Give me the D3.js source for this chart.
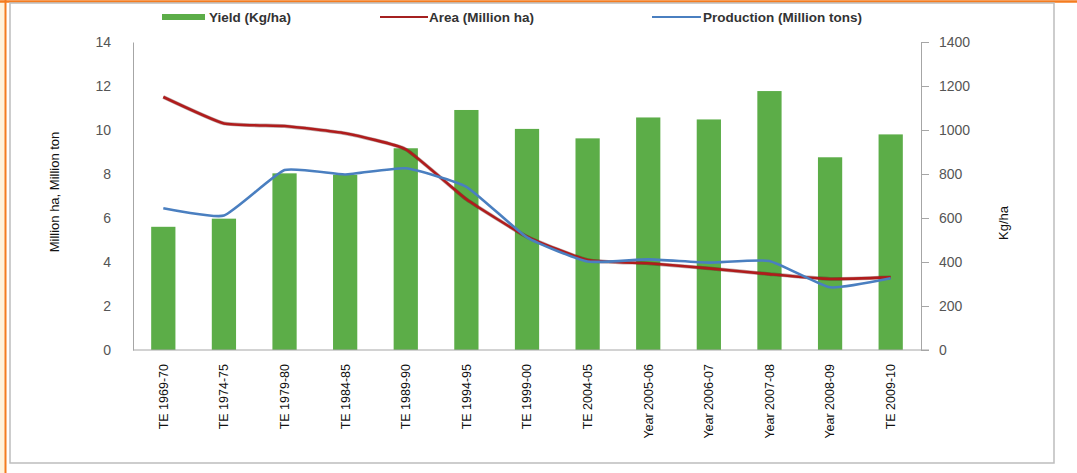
<!DOCTYPE html>
<html>
<head>
<meta charset="utf-8">
<script src="https://cdn.jsdelivr.net/npm/d3@7"></script>
<style>
  body { margin: 0; background: #fff; }
  text { font-family: "Liberation Sans", Arial, sans-serif; }
</style>
</head>
<body>
<svg id="chart" width="1077" height="473"></svg>
<script>
const categories = ['TE 1969-70', 'TE 1974-75', 'TE 1979-80', 'TE 1984-85', 'TE 1989-90', 'TE 1994-95',
  'TE 1999-00', 'TE 2004-05', 'Year 2005-06', 'Year 2006-07', 'Year 2007-08', 'Year 2008-09', 'TE 2009-10'];
const yieldKg = [560, 597, 803, 797, 917, 1091, 1005, 962, 1057, 1048, 1177, 876, 980];
const area = [11.5, 10.3, 10.18, 9.85, 9.12, 6.85, 5.15, 4.09, 3.94, 3.71, 3.45, 3.23, 3.30];
const production = [6.44, 6.11, 8.18, 7.98, 8.26, 7.42, 5.12, 4.02, 4.12, 3.97, 4.05, 2.85, 3.26];
const leftTicks = [0, 2, 4, 6, 8, 10, 12, 14];
const rightTicks = [0, 200, 400, 600, 800, 1000, 1200, 1400];

const svg = d3.select('#chart');
const W = 1077, H = 473;
const m = {left: 133, right: 921, top: 42, bottom: 350};

// frame
svg.append('rect').attr('x', 0).attr('y', 0).attr('width', 5).attr('height', H).attr('fill', '#fff3dc');
svg.append('line').attr('x1', 0).attr('x2', W).attr('y1', 1.5).attr('y2', 1.5).attr('stroke', '#f47c20').attr('stroke-width', 2.5);
svg.append('line').attr('x1', 5.5).attr('x2', 5.5).attr('y1', 0).attr('y2', H).attr('stroke', '#f47c20').attr('stroke-width', 2);
svg.append('rect').attr('x', 10).attr('y', 3).attr('width', 1044).attr('height', 460)
  .attr('fill', 'none').attr('stroke', '#bdbdbd').attr('stroke-width', 1.5);

const x = d3.scaleBand().domain(categories).range([m.left, m.right]).paddingInner(0.6).paddingOuter(0.3);
const yL = d3.scaleLinear().domain([0, 14]).range([m.bottom, m.top]);
const yR = d3.scaleLinear().domain([0, 1400]).range([m.bottom, m.top]);
const cx = d => x(d) + x.bandwidth() / 2;

// bars
svg.append('g').selectAll('rect').data(categories).join('rect')
  .attr('x', d => x(d))
  .attr('width', x.bandwidth())
  .attr('y', (d, i) => yR(yieldKg[i]))
  .attr('height', (d, i) => yR(0) - yR(yieldKg[i]))
  .attr('fill', '#5cad48');

// axes
const gL = svg.append('g').attr('transform', `translate(${m.left},0)`)
  .call(d3.axisLeft(yL).tickValues(leftTicks).tickSize(0).tickPadding(22));
const gR = svg.append('g').attr('transform', `translate(${m.right},0)`)
  .call(d3.axisRight(yR).tickValues(rightTicks).tickFormat(d3.format('d')).tickSize(8).tickPadding(10));
const gB = svg.append('g').attr('transform', `translate(0,${m.bottom})`)
  .call(d3.axisBottom(x).tickSize(0).tickPadding(0));
gB.select('.domain').attr('d', `M${m.left},0H${m.right + 8}`);

[gL, gR, gB].forEach(g => {
  g.select('.domain').attr('stroke', '#a6a6a6');
  g.selectAll('.tick line').attr('stroke', '#a6a6a6');
  g.selectAll('text').attr('fill', '#555').style('font-size', '13px');
});
gL.selectAll('text').style('font-size', '14px');
gR.selectAll('text').style('font-size', '14px');

gB.selectAll('text')
  .attr('transform', 'rotate(-90)')
  .attr('text-anchor', 'end')
  .attr('x', -14).attr('y', 0).attr('dy', '0.35em')
  .attr('fill', '#111')
  .style('font-size', '12.5px');

// lines
const line = yv => d3.line().x(d => cx(d)).y((d, i) => yL(yv[i])).curve(d3.curveCardinal.tension(0.55));
svg.append('path').datum(categories).attr('d', line(area))
  .attr('fill', 'none').attr('stroke', '#4a1010').attr('stroke-width', 3.8).attr('opacity', 0.35);
svg.append('path').datum(categories).attr('d', line(area))
  .attr('fill', 'none').attr('stroke', '#b01c1c').attr('stroke-width', 2.6);
svg.append('path').datum(categories).attr('d', line(production))
  .attr('fill', 'none').attr('stroke', '#4a7fc0').attr('stroke-width', 2.6);

// axis titles
svg.append('text').attr('transform', 'translate(59,192) rotate(-90)')
  .attr('text-anchor', 'middle').attr('fill', '#111')
  .style('font-size', '13px').style('font-family', '"Liberation Sans Narrow", "Liberation Sans", sans-serif')
  .text('Million ha, Million ton');
svg.append('text').attr('transform', 'translate(1008,223) rotate(-90)')
  .attr('text-anchor', 'middle').attr('fill', '#111')
  .style('font-size', '13px').style('font-family', '"Liberation Sans Narrow", "Liberation Sans", sans-serif')
  .text('Kg/ha');

// legend
const legend = svg.append('g').style('font-size', '13.5px').style('font-weight', 'bold');
legend.append('rect').attr('x', 162).attr('y', 14).attr('width', 43).attr('height', 6).attr('fill', '#5cad48');
legend.append('text').attr('x', 209).attr('y', 22).attr('fill', '#333').text('Yield (Kg/ha)');
legend.append('line').attr('x1', 380).attr('x2', 428).attr('y1', 17).attr('y2', 17).attr('stroke', '#a52020').attr('stroke-width', 2);
legend.append('text').attr('x', 429).attr('y', 22).attr('fill', '#333').text('Area (Million ha)');
legend.append('line').attr('x1', 652).attr('x2', 701).attr('y1', 17).attr('y2', 17).attr('stroke', '#4a7fc0').attr('stroke-width', 2);
legend.append('text').attr('x', 703).attr('y', 22).attr('fill', '#333').text('Production (Million tons)');
</script>
</body>
</html>
